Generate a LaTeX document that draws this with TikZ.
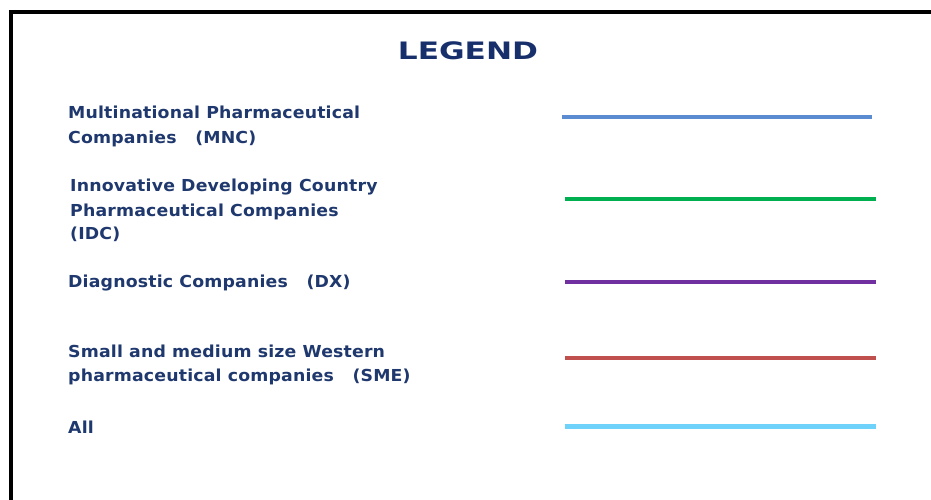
\documentclass[tikz,border=0pt]{standalone}
\usepackage{fontspec}
\setmainfont{DejaVu Sans}
\newfontfamily\lblfont[LetterSpace=1]{DejaVu Sans}
\newfontfamily\titlefont{DejaVu Sans}
\newcommand{\wideLbl}[1]{\scalebox{1.05}[1]{#1}}
\definecolor{txtblue}{RGB}{31,56,110}
\definecolor{titleblue}{RGB}{23,48,108}
\definecolor{mncblue}{RGB}{91,139,208}
\definecolor{idcgreen}{RGB}{0,176,80}
\definecolor{dxpurple}{RGB}{112,48,160}
\definecolor{smered}{RGB}{192,80,77}
\definecolor{allcyan}{RGB}{110,210,250}
\tikzset{
  lbl/.style={anchor=base west, inner sep=0pt, text=txtblue, font=\lblfont\fontsize{16.5}{19}\selectfont\bfseries},
  swatch/.style={line width=4pt},
}
\begin{document}
\begin{tikzpicture}[x=1pt,y=-1pt]
\clip (0,0) rectangle (931,500);
\fill[white] (0,0) rectangle (931,500);
\draw[line width=4pt] (11,520) -- (11,12) -- (950,12);
\node[anchor=base, inner sep=0pt, text=titleblue, font=\titlefont\fontsize{24}{28}\selectfont\bfseries] (title) at (468,59.5) {\scalebox{1.3}[1]{LEGEND}};
\node[lbl] (m1) at (68,118.5) {\wideLbl{Multinational Pharmaceutical}};
\node[lbl] (m2) at (68,143) {\wideLbl{Companies \ \ (MNC)}};
\node[lbl] (i1) at (70,191) {\wideLbl{Innovative Developing Country}};
\node[lbl] (i2) at (70,216) {\wideLbl{Pharmaceutical Companies}};
\node[lbl] (i3) at (70,239) {\wideLbl{(IDC)}};
\node[lbl] (d1) at (68,287) {\wideLbl{Diagnostic Companies \ \ (DX)}};
\node[lbl] (s1) at (68,357) {\wideLbl{Small and medium size Western}};
\node[lbl] (s2) at (68,381) {\wideLbl{pharmaceutical companies \ \ (SME)}};
\node[lbl] (a1) at (68,433) {\wideLbl{All}};
\coordinate (mA) at (562,117); \coordinate (mB) at (872,117);
\coordinate (iA) at (565,199); \coordinate (iB) at (876,199);
\coordinate (dA) at (565,282); \coordinate (dB) at (876,282);
\coordinate (sA) at (565,358); \coordinate (sB) at (876,358);
\coordinate (aA) at (565,426); \coordinate (aB) at (876,426);
\draw[swatch, mncblue] (mA) -- (mB);
\draw[swatch, idcgreen] (iA) -- (iB);
\draw[swatch, dxpurple] (dA) -- (dB);
\draw[swatch, smered] (sA) -- (sB);
\draw[swatch, allcyan, line width=5pt] (aA) -- (aB);
\end{tikzpicture}
\end{document}
